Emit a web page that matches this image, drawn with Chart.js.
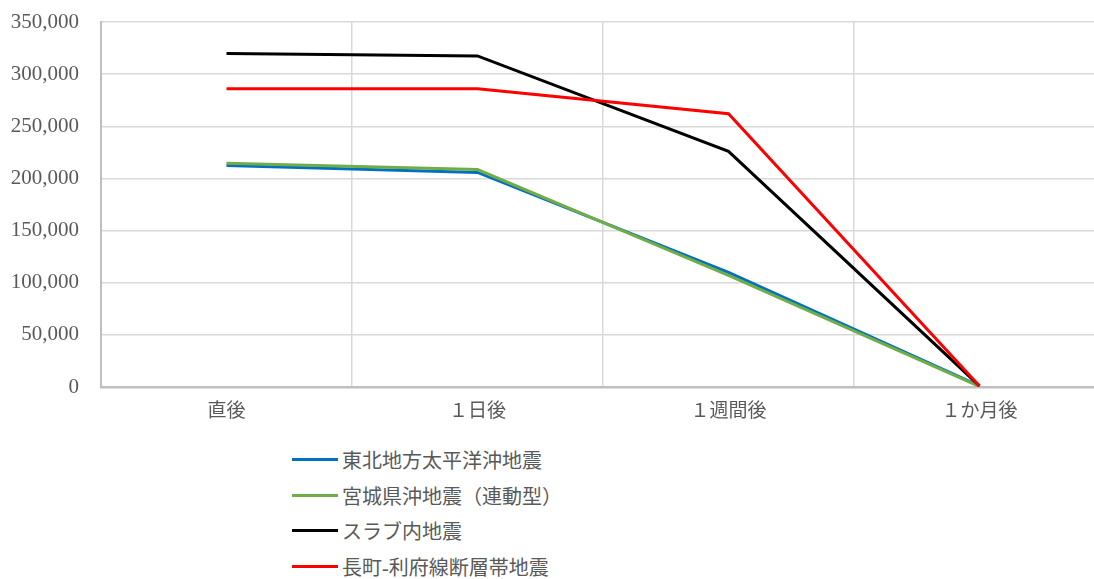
<!DOCTYPE html>
<html lang="ja">
<head>
<meta charset="utf-8">
<script src="https://cdn.jsdelivr.net/npm/chart.js@4"></script>
<style>
  html, body { margin: 0; padding: 0; background: #fff; overflow: hidden; }
  #wrap { position: relative; width: 1105px; height: 579px; }
  #chartBox { position: absolute; left: 0; top: 0; width: 1105px; height: 430px; }
  #legend { position: absolute; left: 292px; top: 442px; margin: 0; padding: 0; list-style: none; }
  #legend li { display: flex; align-items: center; height: 35.6px;
    font: 20px 'Liberation Serif', 'Noto Sans CJK JP', serif; color: #595959; }
  #legend .swatch { display: inline-block; width: 46px; height: 3px; margin-right: 4px; }
</style>
</head>
<body>
<div id="wrap">
  <div id="chartBox"><canvas id="quakeChart"></canvas></div>
  <ul id="legend"></ul>
</div>
<script>
// 地震後の推移（値はグラフから読み取り）
const categories = ['直後', '１日後', '１週間後', '１か月後'];
const seriesNames = ['東北地方太平洋沖地震', '宮城県沖地震（連動型）', 'スラブ内地震', '長町-利府線断層帯地震'];
const tohoku = [212500, 205800, 110000, 1000];
const miyagi = [214500, 208500, 107000, 500];
const slab = [319800, 317500, 226000, 1000];
const nagamachi = [286000, 286000, 262000, 1000];
const yTicks = [0, 50000, 100000, 150000, 200000, 250000, 300000, 350000];

const colors = ['#0070c0', '#70ad47', '#000000', '#ff0000'];
const seriesValues = [tohoku, miyagi, slab, nagamachi];

const fontFamily = "'Liberation Serif', 'Noto Sans CJK JP', serif";
const textColor = '#595959';

const datasets = seriesNames.map((name, i) => ({
  label: name,
  data: seriesValues[i],
  borderColor: colors[i],
  backgroundColor: colors[i],
  borderWidth: 3,
  pointRadius: 0,
  tension: 0,
  fill: false,
  // Excel draws later series on top
  order: seriesNames.length - i
}));

const chart = new Chart(document.getElementById('quakeChart'), {
  type: 'line',
  data: { labels: categories, datasets: datasets },
  options: {
    responsive: true,
    maintainAspectRatio: false,
    animation: false,
    layout: { padding: { top: 22, right: 0, left: 0, bottom: 0 } },
    plugins: {
      legend: { display: false },
      tooltip: { enabled: false }
    },
    scales: {
      x: {
        offset: true,
        grid: { offset: true, color: '#d9d9d9', lineWidth: 1.5, drawTicks: false },
        border: { color: '#bfbfbf', width: 2.5 },
        ticks: {
          padding: 14,
          color: textColor,
          font: { family: fontFamily, size: 19 }
        },
        afterFit: s => { s.height = 43; }
      },
      y: {
        min: 0,
        max: 350000,
        afterBuildTicks: s => { s.ticks = yTicks.map(v => ({ value: v })); },
        grid: { color: '#d9d9d9', lineWidth: 1.5, drawTicks: false },
        border: { color: '#bfbfbf', width: 2 },
        ticks: {
          padding: 22,
          color: textColor,
          font: { family: fontFamily, size: 21 },
          callback: v => v.toLocaleString('en-US')
        },
        afterFit: s => { s.width = 101; s.paddingTop = 0; s.paddingBottom = 0; }
      }
    }
  }
});

// HTML legend (vertical list under the plot)
const legendEl = document.getElementById('legend');
chart.data.datasets.forEach(ds => {
  const li = document.createElement('li');
  const sw = document.createElement('span');
  sw.className = 'swatch';
  sw.style.background = ds.borderColor;
  li.appendChild(sw);
  li.appendChild(document.createTextNode(ds.label));
  legendEl.appendChild(li);
});
</script>
</body>
</html>
